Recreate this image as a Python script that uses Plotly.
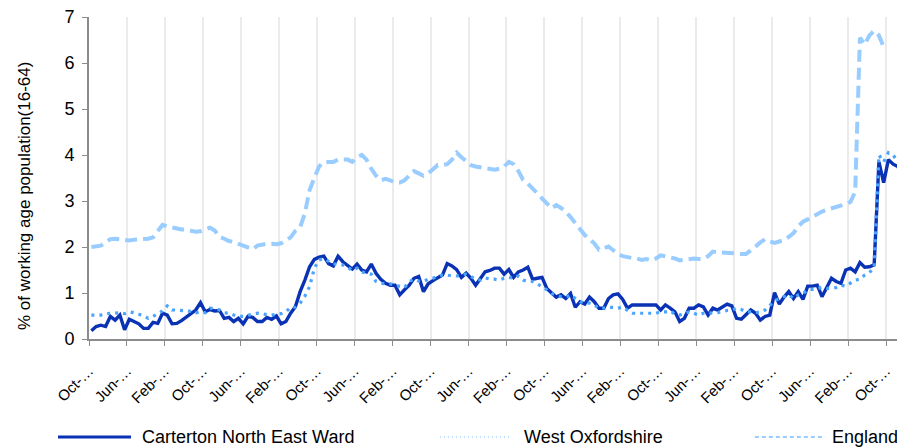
import plotly.graph_objects as go

# monthly values, % of working age population (16-64)
carterton = [
    0.18, 0.27, 0.30, 0.27, 0.49, 0.41, 0.52, 0.20, 0.43, 0.38,
    0.33, 0.23, 0.23, 0.36, 0.34, 0.56, 0.52, 0.33, 0.34, 0.40,
    0.47, 0.56, 0.63, 0.79, 0.59, 0.64, 0.61, 0.62, 0.45, 0.47,
    0.38, 0.45, 0.33, 0.49, 0.47, 0.38, 0.38, 0.47, 0.43, 0.50,
    0.33, 0.38, 0.56, 0.70, 1.03, 1.28, 1.57, 1.73, 1.78, 1.80,
    1.64, 1.59, 1.80, 1.68, 1.59, 1.52, 1.63, 1.50, 1.46, 1.63,
    1.43, 1.30, 1.21, 1.17, 1.17, 0.96, 1.07, 1.17, 1.32, 1.36,
    1.03, 1.20, 1.27, 1.32, 1.39, 1.64, 1.59, 1.51, 1.34, 1.43,
    1.32, 1.17, 1.32, 1.46, 1.49, 1.54, 1.54, 1.41, 1.51, 1.34,
    1.46, 1.50, 1.56, 1.30, 1.32, 1.34, 1.10, 1.01, 0.91, 0.96,
    0.88, 0.99, 0.69, 0.81, 0.76, 0.91, 0.81, 0.67, 0.67, 0.88,
    0.96, 0.98, 0.86, 0.67, 0.74, 0.74, 0.74, 0.74, 0.74, 0.74,
    0.63, 0.74, 0.67, 0.59, 0.38, 0.45, 0.67, 0.67, 0.74, 0.70,
    0.52, 0.67, 0.63, 0.70, 0.76, 0.72, 0.45, 0.43, 0.54, 0.63,
    0.56, 0.41, 0.49, 0.52, 1.01, 0.76, 0.91, 1.03, 0.88, 1.03,
    0.86, 1.15, 1.15, 1.17, 0.92, 1.14, 1.32, 1.25, 1.21, 1.50,
    1.54, 1.46, 1.66, 1.56, 1.57, 1.61, 3.85, 3.40, 3.90, 3.80,
    3.75, 3.50,
]

west_oxfordshire = [
    0.52, 0.52, 0.52, 0.55, 0.56, 0.56, 0.57, 0.55, 0.59, 0.57,
    0.54, 0.49, 0.45, 0.49, 0.55, 0.61, 0.72, 0.63, 0.63, 0.62,
    0.61, 0.60, 0.57, 0.59, 0.57, 0.67, 0.66, 0.63, 0.57, 0.56,
    0.52, 0.49, 0.49, 0.52, 0.54, 0.56, 0.54, 0.53, 0.52, 0.54,
    0.55, 0.59, 0.69, 0.69, 0.78, 0.93, 1.14, 1.54, 1.72, 1.75,
    1.68, 1.63, 1.63, 1.61, 1.56, 1.49, 1.54, 1.46, 1.43, 1.41,
    1.25, 1.21, 1.20, 1.20, 1.17, 1.15, 1.12, 1.25, 1.30, 1.26,
    1.25, 1.30, 1.32, 1.36, 1.39, 1.39, 1.37, 1.37, 1.39, 1.41,
    1.36, 1.30, 1.28, 1.33, 1.30, 1.30, 1.28, 1.32, 1.34, 1.32,
    1.37, 1.28, 1.25, 1.25, 1.20, 1.14, 1.07, 0.99, 0.96, 0.92,
    0.91, 0.96, 0.88, 0.81, 0.78, 0.78, 0.74, 0.67, 0.67, 0.70,
    0.68, 0.67, 0.69, 0.62, 0.56, 0.56, 0.56, 0.56, 0.56, 0.56,
    0.59, 0.59, 0.61, 0.54, 0.52, 0.56, 0.59, 0.56, 0.52, 0.56,
    0.57, 0.56, 0.57, 0.59, 0.62, 0.63, 0.67, 0.64, 0.59, 0.59,
    0.57, 0.59, 0.63, 0.74, 0.83, 0.88, 0.92, 0.96, 0.88, 0.96,
    0.99, 1.07, 1.08, 1.10, 1.12, 1.10, 1.10, 1.12, 1.17, 1.15,
    1.21, 1.28, 1.30, 1.39, 1.44, 1.56, 4.00, 3.85, 4.05, 4.00,
    3.85, 3.80,
]

england = [
    2.00, 2.01, 2.03, 2.10, 2.17, 2.18, 2.17, 2.15, 2.14, 2.16,
    2.17, 2.16, 2.18, 2.21, 2.35, 2.48, 2.45, 2.42, 2.39, 2.38,
    2.38, 2.36, 2.33, 2.34, 2.38, 2.42, 2.36, 2.22, 2.18, 2.13,
    2.11, 2.07, 2.03, 1.98, 1.95, 2.03, 2.06, 2.07, 2.07, 2.06,
    2.08, 2.15, 2.21, 2.35, 2.43, 2.73, 3.24, 3.50, 3.75, 3.85,
    3.85, 3.85, 3.90, 3.90, 3.90, 3.85, 3.95, 4.00, 3.90, 3.70,
    3.55, 3.45, 3.48, 3.45, 3.40, 3.40, 3.45, 3.55, 3.65, 3.60,
    3.55, 3.60, 3.70, 3.78, 3.78, 3.80, 3.90, 4.05, 3.95, 3.85,
    3.78, 3.75, 3.73, 3.72, 3.70, 3.68, 3.70, 3.75, 3.85, 3.80,
    3.65, 3.46, 3.38, 3.28, 3.18, 3.06, 2.95, 2.84, 2.91, 2.85,
    2.77, 2.65, 2.51, 2.38, 2.26, 2.17, 2.08, 1.94, 1.98, 2.01,
    1.93, 1.85, 1.80, 1.77, 1.76, 1.75, 1.72, 1.74, 1.71, 1.75,
    1.82, 1.80, 1.78, 1.75, 1.71, 1.73, 1.75, 1.75, 1.74, 1.74,
    1.80, 1.90, 1.89, 1.88, 1.87, 1.85, 1.85, 1.85, 1.85, 1.92,
    2.01, 2.10, 2.17, 2.12, 2.09, 2.12, 2.15, 2.22, 2.30, 2.45,
    2.55, 2.60, 2.66, 2.72, 2.77, 2.81, 2.84, 2.87, 2.89, 2.93,
    2.98, 3.20, 6.55, 6.40, 6.60, 6.70, 6.60, 6.35,
]

month_cycle = ["Oct", "Jun", "Feb"]
tick_text = [month_cycle[k % 3] + "-\u2026" for k in range(22)]

series_names = ["Carterton North East Ward", "West Oxfordshire", "England"]
series_colors = ["#0a32b4", "#4aa3ff", "#99ccff"]
y_title = "% of working age population(16-64)"

x = list(range(len(carterton)))
font = "Liberation Sans, Arial, sans-serif"

fig = go.Figure()
fig.add_trace(go.Scatter(x=x, y=carterton, mode="lines", name=series_names[0],
                         line=dict(color=series_colors[0], width=3.4)))
fig.add_trace(go.Scatter(x=x, y=west_oxfordshire, mode="lines", name=series_names[1],
                         line=dict(color=series_colors[1], width=3.2, dash="3px,5px")))
fig.add_trace(go.Scatter(x=x, y=england, mode="lines", name=series_names[2],
                         line=dict(color=series_colors[2], width=4, dash="12px,6px")))

# legend drawn by hand (long line samples, like the original)
legend_y = -0.304
legend_lines = [(-0.038, 0.0515, "solid", 3, series_colors[0]),
                (0.430, 0.516, "1px,3px", 2, "#b8dcff"),
                (0.816, 0.902, "4px,3px", 2, "#99ccff")]
legend_text_x = [0.0625, 0.531, 0.908]
shapes = []
annotations = []
for (x0, x1, dash, w, col), tx, name in zip(legend_lines, legend_text_x, series_names):
    shapes.append(dict(type="line", xref="paper", yref="paper", x0=x0, x1=x1,
                       y0=legend_y, y1=legend_y, line=dict(color=col, width=w, dash=dash)))
    annotations.append(dict(xref="paper", yref="paper", x=tx, y=legend_y, text=name,
                            showarrow=False, xanchor="left", yanchor="middle",
                            font=dict(size=18, color="#000000")))

# y axis title sits a little low, as in the original
annotations.append(dict(xref="paper", yref="paper", x=-0.0797, y=0.444, text=y_title,
                        textangle=-90, showarrow=False, xanchor="center", yanchor="middle",
                        font=dict(size=17, color="#000000")))

# the page adds an 8px body margin, so the figure is drawn 8px smaller
fig.update_layout(
    width=897, height=440,
    margin=dict(l=81, r=0, t=9, b=109),
    paper_bgcolor="white", plot_bgcolor="white",
    font=dict(family=font, color="#000000"),
    showlegend=False,
    shapes=shapes,
    annotations=annotations,
    xaxis=dict(
        range=[-0.5, 171.5],
        tickvals=[-0.5 + 8 * k for k in range(22)],
        ticktext=tick_text,
        tickangle=-45,
        tickfont=dict(size=15),
        ticks="outside", ticklen=5, tickcolor="#8c8c8c",
        showline=True, linecolor="#8c8c8c", linewidth=2,
        showgrid=True, gridcolor="#ebebeb", gridwidth=2,
        zeroline=False, automargin=False,
        ticklabelstandoff=10,
    ),
    yaxis=dict(
        range=[0, 7],
        dtick=1,
        tickfont=dict(size=18),
        ticks="outside", ticklen=5, tickcolor="#8c8c8c",
        showline=True, linecolor="#8c8c8c", linewidth=2,
        showgrid=False, zeroline=False, automargin=False,
        ticklabelstandoff=4,
        ticklabeloverflow="allow",
    ),
)

fig.write_html("out.html")
